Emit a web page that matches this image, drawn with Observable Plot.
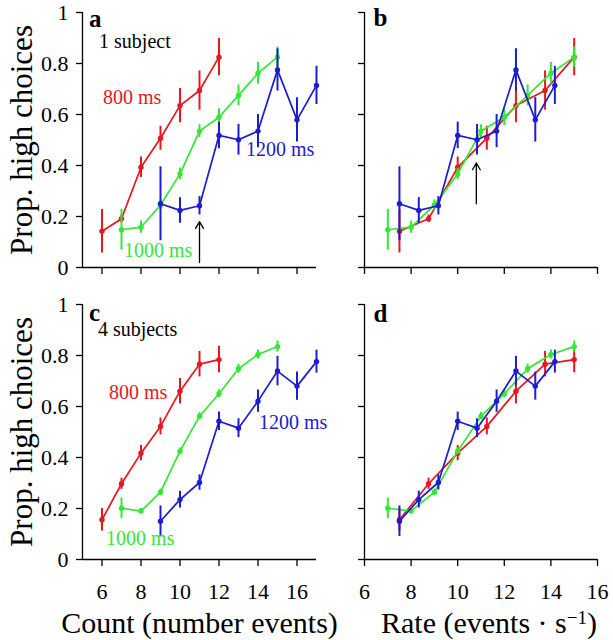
<!DOCTYPE html>
<html><head><meta charset="utf-8">
<script src="https://cdn.jsdelivr.net/npm/d3@7"></script>
<script src="https://cdn.jsdelivr.net/npm/@observablehq/plot@0.6"></script>
<style>
body{margin:0;background:#fff;}
#root{position:relative;width:613px;height:640px;font-family:"Liberation Serif","Times New Roman",serif;}
#root svg{position:absolute;overflow:visible;background:transparent;font-family:"Liberation Serif","Times New Roman",serif !important;}
#root svg text{font-family:"Liberation Serif","Times New Roman",serif !important;}
</style></head><body><div id="root"></div>
<script>
// ---- data ----
const series = ["800 ms", "1000 ms", "1200 ms"];
const colors = ["#e8161e", "#33e833", "#1c1cd0"];

const count800 = [6, 7, 8, 9, 10, 11, 12];
const count1000 = [7, 8, 9, 10, 11, 12, 13, 14, 15];
const count1200 = [9, 10, 11, 12, 13, 14, 15, 16, 17];

const rate800 = [7.5, 8.75, 10, 11.25, 12.5, 13.75, 15];
const rate1000 = [7, 8, 9, 10, 11, 12, 13, 14, 15];
const rate1200 = [7.5, 8.33, 9.17, 10, 10.83, 11.67, 12.5, 13.33, 14.17];

// one subject
const p800_1 = [0.142, 0.191, 0.393, 0.507, 0.635, 0.694, 0.825];
const e800_1 = [0.085, 0.015, 0.04, 0.047, 0.067, 0.077, 0.073];
const p1000_1 = [0.148, 0.158, 0.245, 0.367, 0.535, 0.589, 0.675, 0.762, 0.825];
const e1000_1 = [0.08, 0.024, 0.02, 0.023, 0.025, 0.033, 0.041, 0.042, 0.04];
const p1200_1 = [0.250, 0.224, 0.242, 0.518, 0.501, 0.535, 0.775, 0.579, 0.714];
const e1200_1 = [0.145, 0.05, 0.036, 0.052, 0.06, 0.065, 0.083, 0.087, 0.075];

// four subjects
const p800_4 = [0.156, 0.297, 0.417, 0.522, 0.660, 0.766, 0.784];
const e800_4 = [0.044, 0.022, 0.03, 0.033, 0.05, 0.05, 0.052];
const p1000_4 = [0.201, 0.190, 0.264, 0.425, 0.562, 0.650, 0.748, 0.804, 0.835];
const e1000_4 = [0.04, 0.01, 0.012, 0.012, 0.014, 0.016, 0.018, 0.018, 0.022];
const p1200_4 = [0.150, 0.235, 0.302, 0.542, 0.515, 0.621, 0.739, 0.680, 0.776];
const e1200_4 = [0.06, 0.033, 0.03, 0.036, 0.037, 0.044, 0.058, 0.055, 0.045];

const yTicks = [0, 0.2, 0.4, 0.6, 0.8, 1];
const xTicksCount = [6, 8, 10, 12, 14, 16];
const xTicksRate = [6, 8, 10, 12, 14, 16];

const yLabel = "Prop. high choices";
const xLabelCount = "Count (number events)";
const xLabelRate = "Rate (events · s−1)";

// annotations (data units)
const letterA = [{x: 5.33, y: 0.945, text: "a"}];
const letterB = [{x: 6.39, y: 0.949, text: "b"}];
const letterC = [{x: 5.33, y: 0.937, text: "c"}];
const letterD = [{x: 6.39, y: 0.933, text: "d"}];
const notesA = [
  {x: 5.85, y: 0.859, text: "1 subject", c: "black"},
  {x: 6.05, y: 0.643, text: "800 ms", c: colors[0]},
  {x: 7.13, y: 0.043, text: "1000 ms", c: colors[1]},
  {x: 13.38, y: 0.439, text: "1200 ms", c: colors[2]}
];
const notesC = [
  {x: 5.79, y: 0.875, text: "4 subjects", c: "black"},
  {x: 6.36, y: 0.631, text: "800 ms", c: colors[0]},
  {x: 6.21, y: 0.055, text: "1000 ms", c: colors[1]},
  {x: 14.05, y: 0.51, text: "1200 ms", c: colors[2]}
];
const arrowA = [{x: 11, y1: 0.02, y2: 0.18}];
const arrowB = [{x: 10.8, y1: 0.25, y2: 0.41}];

// ---- build ----
function rows(xs, ps, es) { return xs.map((x, i) => ({x, p: ps[i], e: es[i]})); }

const fnt = '"Liberation Serif","Times New Roman",serif';

function panel(o) {
  const marks = [];
  const x0 = o.xDomain[0];
  marks.push(Plot.ruleX([x0], {y1: 0, y2: 1, stroke: "black", strokeWidth: 1.3}));
  marks.push(Plot.ruleY([0], {x1: o.xDomain[0], x2: o.xDomain[1], stroke: "black", strokeWidth: 1.3}));
  marks.push(Plot.axisY({ticks: yTicks, label: null, tickSize: 6, tickPadding: 8, fontSize: 22,
    strokeWidth: 1.3, fontFamily: fnt,
    tickFormat: o.yLabels ? (d => String(+d.toFixed(1))) : (() => "")}));
  marks.push(Plot.axisX({ticks: o.xTicks, label: null, tickSize: 7, tickPadding: 17, fontSize: 22,
    strokeWidth: 1.3, fontFamily: fnt,
    tickFormat: o.xLabels ? (d => String(d)) : (() => "")}));
  o.data.forEach((r, i) => {
    marks.push(Plot.ruleX(r, {x: "x", y1: d => d.p - d.e, y2: d => d.p + d.e, stroke: colors[i], strokeWidth: 2}));
    marks.push(Plot.line(r, {x: "x", y: "p", stroke: colors[i], strokeWidth: 1.7}));
    marks.push(Plot.dot(r, {x: "x", y: "p", r: 2.7, fill: colors[i]}));
  });
  if (o.arrow) marks.push(Plot.arrow(o.arrow, {x1: "x", x2: "x", y1: "y1", y2: "y2", stroke: "black", strokeWidth: 1.3, headLength: 9}));
  marks.push(Plot.text(o.letter, {x: "x", y: "y", text: "text", fill: "black", textAnchor: "start", lineAnchor: "bottom",
    fontFamily: fnt, fontSize: 25, fontWeight: "bold"}));
  if (o.notes) marks.push(Plot.text(o.notes, {x: "x", y: "y", text: "text", fill: "c", textAnchor: "start", lineAnchor: "bottom",
    fontFamily: fnt, fontSize: 20}));
  if (o.yTitle) marks.push(Plot.text([o.yTitle], {frameAnchor: "left", textAnchor: "middle", rotate: -90, dx: -51, lineAnchor: "bottom", fontSize: 31, fontFamily: fnt, fill: "black"}));
  if (o.xTitle) marks.push(Plot.text([o.xTitle], {frameAnchor: "bottom", textAnchor: "middle", dx: o.xTitleDx || 0, dy: 73, lineAnchor: "bottom", fontSize: 30, fontFamily: fnt, fill: "black"}));
  const svg = Plot.plot({
    width: o.width, height: o.height,
    marginLeft: o.mL, marginRight: o.mR, marginTop: o.mT, marginBottom: o.mB,
    x: {domain: o.xDomain, axis: null},
    y: {domain: [0, 1], axis: null},
    style: `font-family: ${fnt}; font-size: 22px; color: black; background: transparent; overflow: visible;`,
    marks
  });
  svg.style.left = o.left + "px";
  svg.style.top = o.top + "px";
  document.getElementById("root").appendChild(svg);
  return svg;
}

const countA = [rows(count800, p800_1, e800_1), rows(count1000, p1000_1, e1000_1), rows(count1200, p1200_1, e1200_1)];
const rateB = [rows(rate800, p800_1, e800_1), rows(rate1000, p1000_1, e1000_1), rows(rate1200, p1200_1, e1200_1)];
const countC = [rows(count800, p800_4, e800_4), rows(count1000, p1000_4, e1000_4), rows(count1200, p1200_4, e1200_4)];
const rateD = [rows(rate800, p800_4, e800_4), rows(rate1000, p1000_4, e1000_4), rows(rate1200, p1200_4, e1200_4)];

panel({data: countA, xDomain: [5, 17], xTicks: xTicksCount, left: 0, top: 0, width: 330, height: 280,
  mL: 82, mR: 14, mT: 12, mB: 13, yLabels: true, xLabels: false, letter: letterA, notes: notesA, arrow: arrowA, yTitle: yLabel});
panel({data: rateB, xDomain: [6, 16], xTicks: xTicksRate, left: 330, top: 0, width: 283, height: 280,
  mL: 34, mR: 16, mT: 12, mB: 13, yLabels: false, xLabels: false, letter: letterB, arrow: arrowB});
panel({data: countC, xDomain: [5, 17], xTicks: xTicksCount, left: 0, top: 280, width: 330, height: 360,
  mL: 82, mR: 14, mT: 24, mB: 81, yLabels: true, xLabels: true, letter: letterC, notes: notesC, yTitle: yLabel, xTitle: xLabelCount});
const svgD = panel({data: rateD, xDomain: [6, 16], xTicks: xTicksRate, left: 330, top: 280, width: 283, height: 360,
  mL: 34, mR: 16, mT: 24, mB: 81, yLabels: false, xLabels: true, letter: letterD, xTitle: xLabelRate, xTitleDx: 8});

// superscript in rate label
d3.select(svgD).selectAll("text").filter(function() { return this.textContent === xLabelRate; })
  .each(function() {
    const t = d3.select(this);
    t.text("");
    t.append("tspan").text("Rate (events · s");
    t.append("tspan").attr("dy", "-0.45em").attr("font-size", "19px").text("−1");
    t.append("tspan").attr("dy", "0.3em").text(")");
  });
</script></body></html>
